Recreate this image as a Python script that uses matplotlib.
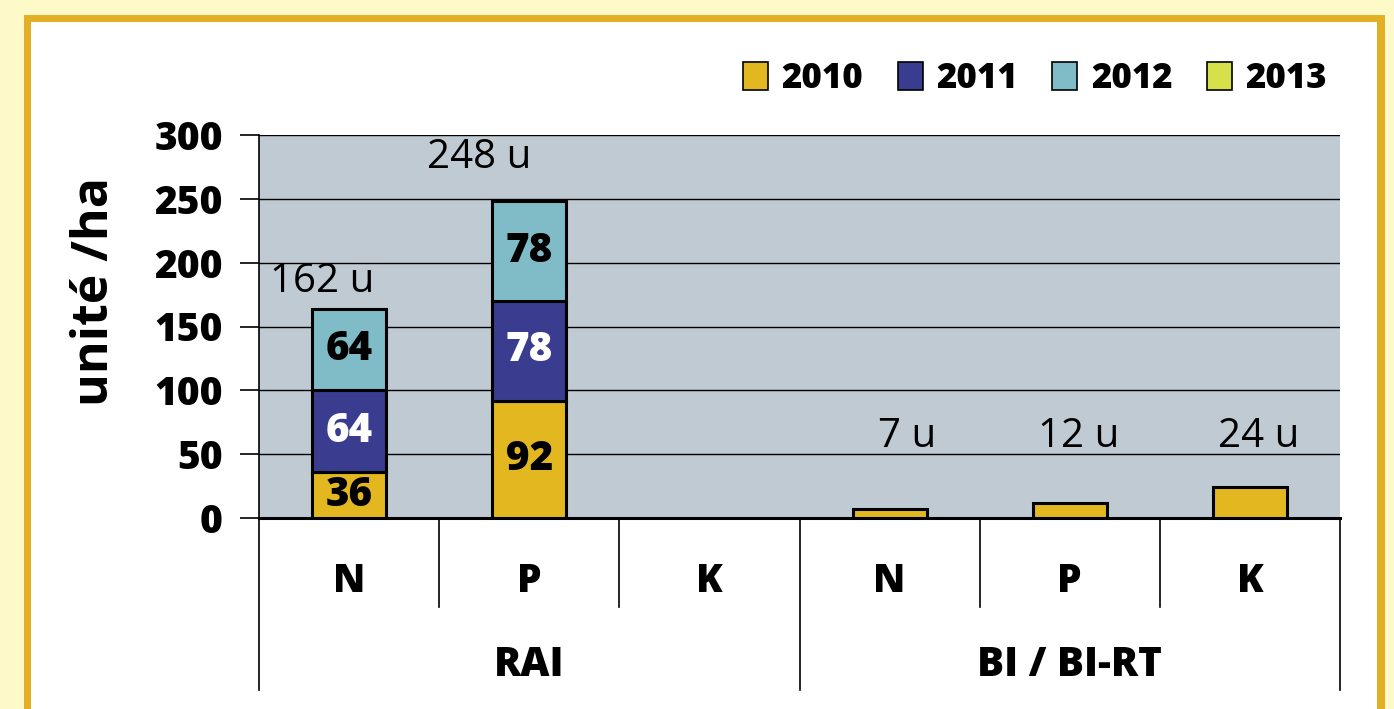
import matplotlib
matplotlib.use("Agg")
import matplotlib.pyplot as plt
from matplotlib.patches import Rectangle, Patch
import matplotlib.transforms as mtransforms

# ---- data ----
categories = ["N", "P", "K", "N", "P", "K"]
groups = ["RAI", "BI / BI-RT"]
years = ["2010", "2011", "2012", "2013"]
v2010 = [36, 92, 0, 7, 12, 24]
v2011 = [64, 78, 0, 0, 0, 0]
v2012 = [64, 78, 0, 0, 0, 0]
v2013 = [0, 0, 0, 0, 0, 0]
totals_text = ["162 u", "248 u", "", "7 u", "12 u", "24 u"]
yticks = [0, 50, 100, 150, 200, 250, 300]

colors = ["#E3B71F", "#3A3D8F", "#80BCC8", "#D6E04A"]
FONT = "Open Sans"

W, H = 1394, 709
fig = plt.figure(figsize=(W / 100, H / 100), dpi=100)
fig.patch.set_facecolor("#FDF9C8")
# gold frame and white panel
fig.patches.append(Rectangle((24 / W, -0.1), (1385 - 24) / W, 1.1 - 15 / H,
                             transform=fig.transFigure, facecolor="#E2AF25",
                             edgecolor="none", zorder=-2))
fig.patches.append(Rectangle((31 / W, -0.1), (1377 - 31) / W, 1.1 - 22 / H,
                             transform=fig.transFigure, facecolor="white",
                             edgecolor="none", zorder=-1))

L, R, T, B = 259, 1340, 135, 518
ax = fig.add_axes([L / W, 1 - B / H, (R - L) / W, (B - T) / H])
ax.set_zorder(2)
ax.set_facecolor("#BFCAD3")

x = list(range(len(categories)))
bw = 0.41
series = [v2010, v2011, v2012, v2013]
bottoms = [0] * len(x)
for vals, c in zip(series, colors):
    idx = [i for i in x if vals[i] > 0]
    ax.bar([x[i] for i in idx], [vals[i] for i in idx], bw,
           bottom=[bottoms[i] for i in idx], color=c, edgecolor="black",
           linewidth=2.2, zorder=3)
    bottoms = [b + v for b, v in zip(bottoms, vals)]

# values inside stacked bars (RAI only)
for si, vals in enumerate(series[:3]):
    base = [sum(series[k][i] for k in range(si)) for i in x]
    for i in x:
        if vals[i] > 0 and bottoms[i] > 50:
            ax.text(x[i], base[i] + vals[i] / 2, str(vals[i]),
                    ha="center", va="center", fontsize=29, fontweight="heavy",
                    family=FONT, color="white" if si == 1 else "black", zorder=4)

# totals labels
label_pos = [(-0.15, 185), (-0.28, 282), None, (0.10, 64), (0.05, 64), (0.05, 64)]
for i, t in enumerate(totals_text):
    if t and label_pos[i] is not None:
        dx, yy = label_pos[i]
        ax.text(x[i] + dx, yy, t, ha="center", va="center", fontsize=29,
                family=FONT, color="black", zorder=4)

ax.set_xlim(-0.5, len(x) - 0.5)
ax.set_ylim(0, 300)
ax.set_yticks(yticks)
ax.set_yticklabels([str(v) for v in yticks], fontsize=28, fontweight="heavy",
                   family=FONT)
ax.tick_params(axis="y", length=14, width=1.2, pad=12, color="black")
ax.tick_params(axis="x", length=0, labelbottom=False)
ax.grid(axis="y", color="black", linewidth=1.0, zorder=1)
ax.set_axisbelow(True)
for s in ["top", "right"]:
    ax.spines[s].set_visible(False)
ax.spines["bottom"].set_linewidth(2.2)
ax.spines["left"].set_linewidth(1.2)

# y axis title
ax.text((95 - L) / (R - L), (B - 292) / (B - T), "unité /ha", transform=ax.transAxes,
        rotation=90, ha="center", va="center", fontsize=36, fontweight="bold",
        family=FONT)

# category axis below
trans = mtransforms.blended_transform_factory(ax.transData, ax.transAxes)
short_y = -(607 - B) / (B - T)
long_y = -(690 - B) / (B - T)
for b in [-0.5, 0.5, 1.5, 2.5, 3.5, 4.5, 5.5]:
    y_end = long_y if b in (-0.5, 2.5, 5.5) else short_y
    ax.plot([b, b], [0, y_end], color="black", linewidth=1.2,
            transform=trans, clip_on=False)
for i, c in enumerate(categories):
    ax.text(x[i], -(582 - B) / (B - T), c, transform=trans, ha="center",
            va="center", fontsize=28, fontweight="heavy", family=FONT)
for gi, g in enumerate(groups):
    ax.text(1 + 3 * gi, -(665 - B) / (B - T), g, transform=trans, ha="center",
            va="center", fontsize=29, fontweight="heavy", family=FONT)

# legend
handles = [Patch(facecolor=c, edgecolor="black", linewidth=1.2) for c in colors]
leg = fig.legend(handles, years, loc="center right",
                 bbox_to_anchor=(1327 / W, 1 - 79 / H), ncol=4, frameon=False,
                 prop={"family": FONT, "weight": "heavy", "size": 25},
                 handlelength=0.72, handleheight=0.9, handletextpad=0.4,
                 columnspacing=0.98, borderpad=0, borderaxespad=0)

fig.savefig("out.png", dpi=100, facecolor=fig.get_facecolor())
